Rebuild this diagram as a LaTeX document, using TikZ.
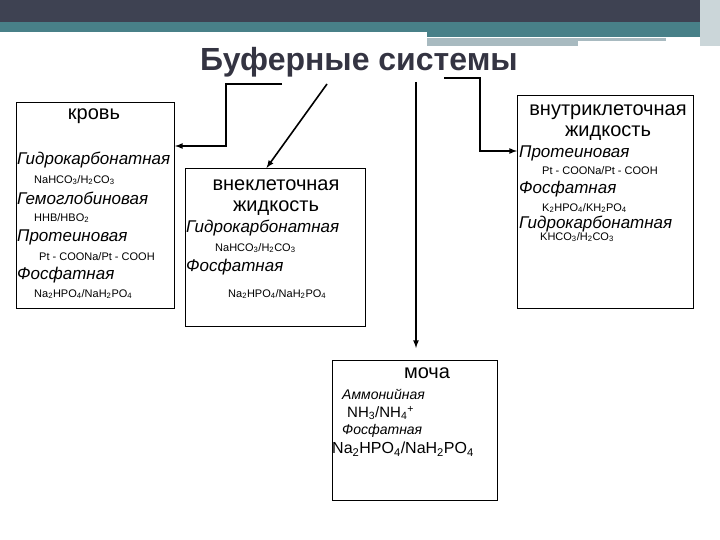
\documentclass[tikz,border=0pt]{standalone}
\usepackage{fontspec}
\setmainfont{Liberation Sans}
\usetikzlibrary{arrows}

\definecolor{bandDark}{RGB}{62,66,82}
\definecolor{bandTeal}{RGB}{72,128,136}
\definecolor{bandLight}{RGB}{168,186,192}
\definecolor{titleGray}{RGB}{52,52,66}

\tikzset{
  bufbox/.style={draw,line width=1pt,anchor=north west,inner sep=0pt},
  boxtitle/.style={font=\fontsize{20}{22}\selectfont,inner sep=0pt},
  sysname/.style={font=\fontsize{17}{19}\selectfont\itshape,anchor=west,inner sep=0pt},
  formula/.style={font=\fontsize{11}{13}\selectfont,anchor=west,inner sep=0pt},
  link/.style={line width=1.6pt,-latex}
}

\begin{document}
\begin{tikzpicture}[x=1pt,y=-1pt]
		\useasboundingbox (0,0) rectangle (720,540);
		% header band
		\fill[bandDark] (0,0) rectangle (720,22);
		\fill[bandTeal] (0,22) rectangle (720,32);
		\fill[bandTeal] (427,32) rectangle (720,37);
		\fill[bandLight] (427,38) rectangle (666,41);
		\fill[bandLight] (427,41) rectangle (578,46);
		\fill[bandLight!60] (700,0) rectangle (720,46);

		\node[font=\fontsize{32}{34}\selectfont\bfseries,text=titleGray] (title) at (359,62) {Буферные системы};

		% boxes
		\node[bufbox,minimum width=158pt,minimum height=206pt] (krov) at (16,102) {};
		\node[bufbox,minimum width=180pt,minimum height=158pt] (vne) at (185,168) {};
		\node[bufbox,minimum width=176pt,minimum height=213pt] (vnu) at (517,95) {};
		\node[bufbox,minimum width=165pt,minimum height=140pt] (mocha) at (332,360) {};

		% blood
		\node[boxtitle] (krovT) at (94,116) {кровь};
		\node[sysname] (k1) at (17,160) {Гидрокарбонатная};
		\node[formula] (k1f) at (34,180) {NaHCO\textsubscript{3}/H\textsubscript{2}CO\textsubscript{3}};
		\node[sysname] (k2) at (17,198) {Гемоглобиновая};
		\node[formula] (k2f) at (34,218) {HHB/HBO\textsubscript{2}};
		\node[sysname] (k3) at (17,237) {Протеиновая};
		\node[formula] (k3f) at (39,257) {Pt - COONa/Pt - COOH};
		\node[sysname] (k4) at (17,275) {Фосфатная};
		\node[formula] (k4f) at (34,294) {Na\textsubscript{2}HPO\textsubscript{4}/NaH\textsubscript{2}PO\textsubscript{4}};

		% extracellular
		\node[boxtitle] (vneT1) at (276,185) {внеклеточная};
		\node[boxtitle] (vneT2) at (276,208) {жидкость};
		\node[sysname] (v1) at (186,228) {Гидрокарбонатная};
		\node[formula] (v1f) at (215,248) {NaHCO\textsubscript{3}/H\textsubscript{2}CO\textsubscript{3}};
		\node[sysname] (v2) at (186,267) {Фосфатная};
		\node[formula] (v2f) at (228,294) {Na\textsubscript{2}HPO\textsubscript{4}/NaH\textsubscript{2}PO\textsubscript{4}};

		% intracellular
		\node[boxtitle] (vnuT1) at (608,112) {внутриклеточная};
		\node[boxtitle] (vnuT2) at (608,133) {жидкость};
		\node[sysname] (u1) at (519,153) {Протеиновая};
		\node[formula] (u1f) at (542,171) {Pt - COONa/Pt - COOH};
		\node[sysname] (u2) at (519,189) {Фосфатная};
		\node[formula] (u2f) at (542,208) {K\textsubscript{2}HPO\textsubscript{4}/KH\textsubscript{2}PO\textsubscript{4}};
		\node[sysname] (u3) at (519,224) {Гидрокарбонатная};
		\node[formula] (u3f) at (540,237) {KHCO\textsubscript{3}/H\textsubscript{2}CO\textsubscript{3}};

		% urine
		\node[boxtitle] (mochaT) at (427,373) {моча};
		\node[sysname,font=\fontsize{14}{16}\selectfont\itshape] (m1) at (342,394) {Аммонийная};
		\node[formula,font=\fontsize{15}{17}\selectfont] (m1f) at (347,413) {NH\textsubscript{3}/NH\textsubscript{4}\textsuperscript{+}};
		\node[sysname,font=\fontsize{14}{16}\selectfont\itshape] (m2) at (342,431) {Фосфатная};
		\node[formula,font=\fontsize{16}{18}\selectfont] (m2f) at (332,449) {Na\textsubscript{2}HPO\textsubscript{4}/NaH\textsubscript{2}PO\textsubscript{4}};

		% connectors
		\coordinate (s1) at (282,84);
		\coordinate (b1) at (226,146);
		\draw[link] (s1) -| (b1) -- (b1 -| krov.east);
		\coordinate (s2) at (327,84);
		\draw[link] (s2) -- ([xshift=-9pt]vne.north);
		\coordinate (s3) at (416,82);
		\draw[link,shorten >=12pt] (s3) -- (s3 |- mocha.north);
		\coordinate (s4) at (444,78);
		\coordinate (b4) at (480,151);
		\draw[link] (s4) -| (b4) -- (b4 -| vnu.west);
	\end{tikzpicture}
\end{document}
